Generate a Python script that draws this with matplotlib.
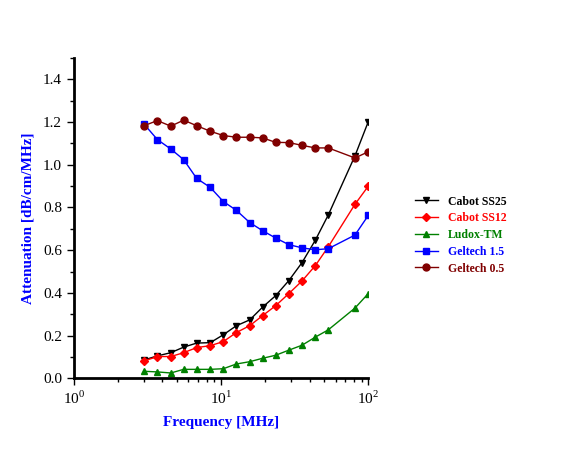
import numpy as np
import matplotlib
matplotlib.use('Agg')
import matplotlib.pyplot as plt
from matplotlib.ticker import LogLocator, MultipleLocator, FixedLocator

plt.rcParams['font.family'] = ['Liberation Serif', 'DejaVu Serif']
plt.rcParams['mathtext.fontset'] = 'custom'
plt.rcParams['mathtext.rm'] = 'Liberation Serif'

# frequencies (MHz)
freq = [3.0, 3.7, 4.56, 5.58, 6.84, 8.46, 10.37, 12.7, 15.7, 19.2,
        23.5, 28.9, 35.5, 43.7, 53.5, 81.2, 100.0]

cabot_ss25 = [0.086, 0.105, 0.120, 0.146, 0.165, 0.167, 0.204, 0.246, 0.274, 0.334,
              0.387, 0.458, 0.542, 0.647, 0.765, 1.042, 1.202]
cabot_ss12 = [0.081, 0.102, 0.102, 0.120, 0.144, 0.153, 0.172, 0.214, 0.247, 0.294,
              0.340, 0.397, 0.456, 0.528, 0.616, 0.815, 0.900]
ludox_tm = [0.033, 0.030, 0.025, 0.042, 0.042, 0.042, 0.045, 0.067, 0.078, 0.094,
            0.108, 0.132, 0.155, 0.193, 0.227, 0.329, 0.397]
geltech_15 = [1.191, 1.118, 1.074, 1.024, 0.936, 0.894, 0.828, 0.787, 0.729, 0.691,
              0.657, 0.626, 0.611, 0.602, 0.607, 0.671, 0.763]
geltech_05 = [1.183, 1.207, 1.181, 1.209, 1.183, 1.157, 1.137, 1.129, 1.129, 1.126,
              1.105, 1.104, 1.091, 1.079, 1.079, 1.032, 1.061]

series = [
    ('Cabot SS25', cabot_ss25, 'black', 'v', 5),
    ('Cabot SS12', cabot_ss12, '#ff0000', 'D', 4.5),
    ('Ludox-TM', ludox_tm, '#008000', '^', 5),
    ('Geltech 1.5', geltech_15, '#0000ff', 's', 4.5),
    ('Geltech 0.5', geltech_05, '#800000', 'o', 5),
]

fig = plt.figure(figsize=(5.77, 4.54), dpi=100)
ax = fig.add_axes([0.1277, 0.1667, 0.5106, 0.7055])

for name, vals, col, mk, ms in series:
    ax.plot(freq, vals, color=col, marker=mk, markersize=ms, linewidth=1,
            markeredgecolor=col, markerfacecolor=col, label=name)

ax.set_xscale('log')
ax.set_xlim(1, 100)
ax.set_ylim(0, 1.5)
ax.xaxis.set_major_locator(FixedLocator([1, 10, 100]))
ax.set_xticklabels(['$10^{0}$', '$10^{1}$', '$10^{2}$'])
ax.xaxis.set_minor_locator(LogLocator(base=10, subs=np.arange(2, 10)))
ax.xaxis.set_minor_formatter(plt.NullFormatter())
ax.yaxis.set_major_locator(FixedLocator([0, 0.2, 0.4, 0.6, 0.8, 1.0, 1.2, 1.4]))
ax.yaxis.set_major_formatter(plt.FormatStrFormatter('%.1f'))
ax.yaxis.set_minor_locator(MultipleLocator(0.1))

for s in ['top', 'right']:
    ax.spines[s].set_visible(False)
for s in ['left', 'bottom']:
    ax.spines[s].set_linewidth(2)
ax.tick_params(which='major', length=5, width=1, labelsize=11, direction='out')
ax.tick_params(which='minor', length=3, width=1, direction='out')

ax.set_xlabel('Frequency [MHz]', color='#0000ff', fontweight='bold', fontsize=11, labelpad=6)
ax.set_ylabel('Attenuation [dB/cm/MHz]', color='#0000ff', fontweight='bold', fontsize=11, labelpad=6)

leg = ax.legend(loc='upper left', bbox_to_anchor=(404 / 577, 1 - 185 / 454),
                bbox_transform=fig.transFigure, frameon=False,
                handlelength=2.0, labelspacing=0.4, handletextpad=0.85,
                prop={'weight': 'bold', 'size': 8.5})
for txt, (_, _, col, _, _) in zip(leg.get_texts(), series):
    txt.set_color(col)

fig.savefig('out.png', dpi=100)
